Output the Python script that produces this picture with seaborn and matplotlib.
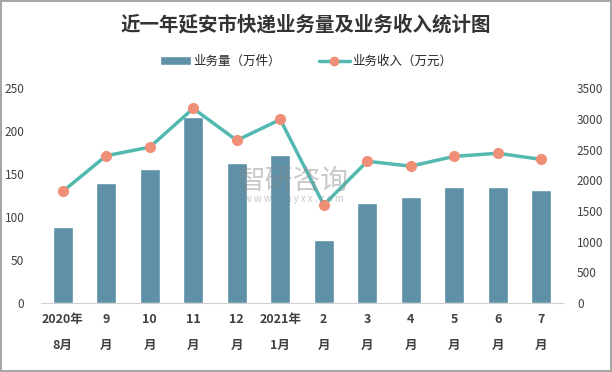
import numpy as np
import pandas as pd
import seaborn as sns
import matplotlib.pyplot as plt
from matplotlib.lines import Line2D
from matplotlib.patches import Patch

months = ["2020年\n8月", "9\n月", "10\n月", "11\n月", "12\n月", "2021年\n1月",
          "2\n月", "3\n月", "4\n月", "5\n月", "6\n月", "7\n月"]
volume = [89, 140, 156, 217, 163, 172, 74, 117, 123, 135, 135, 132]       # 业务量（万件）
income = [1820, 2400, 2540, 3170, 2650, 2990, 1600, 2310, 2230, 2390, 2440, 2340]  # 业务收入（万元）

bar_col = "#5e90a8"
line_col = "#52b9b1"
dot_col = "#ef8f78"

sns.set_style("white")
plt.rcParams['font.family'] = ['Noto Sans CJK SC', 'DejaVu Sans']

df = pd.DataFrame({"month": months, "volume": volume, "income": income})

fig = plt.figure(figsize=(6.12, 3.72), dpi=100)
fig.patch.set_edgecolor("#a6a6a6")
fig.patch.set_linewidth(1.5)
ax = fig.add_axes([0.067, 0.185, 0.853, 0.578])

sns.barplot(data=df, x="month", y="volume", color=bar_col, width=0.46,
            saturation=1, ax=ax)
ax.set_ylim(0, 250)
ax.set_yticks(range(0, 251, 50))
ax.set_xlabel("")
ax.set_ylabel("")

ax2 = ax.twinx()
sns.pointplot(data=df, x="month", y="income", color=line_col, errorbar=None,
              markers="o", ax=ax2)
for ln in ax2.lines:
    ln.set_linewidth(2.5)
    ln.set_markersize(6)
    ln.set_markerfacecolor(dot_col)
    ln.set_markeredgecolor(dot_col)
ax2.set_ylim(0, 3500)
ax2.set_yticks(range(0, 3501, 500))
ax2.set_ylabel("")
ax2.set_xlim(-0.5, 11.5)
ax.set_xlim(-0.5, 11.5)

for a in (ax, ax2):
    for s in a.spines.values():
        s.set_visible(False)
    a.tick_params(length=0, labelsize=8.5, colors="#404040")
ax.spines["bottom"].set_visible(True)
ax.spines["bottom"].set_color("#d0d0d0")
ax.tick_params(axis="y", pad=12)
ax2.tick_params(axis="y", pad=10)
ax.tick_params(axis="x", pad=7)
for t in ax.get_xticklabels():
    t.set_fontweight("bold")
    t.set_linespacing(2.3)
    t.set_fontsize(9)

fig.text(0.5, 0.935, "近一年延安市快递业务量及业务收入统计图", ha="center", va="center",
         fontsize=14, fontweight="bold", color="#333333")

handles = [Patch(facecolor=bar_col, label="业务量（万件）"),
           Line2D([0], [0], color=line_col, lw=2.5, marker="o", markersize=6,
                  markerfacecolor=dot_col, markeredgecolor=dot_col, label="业务收入（万元）")]
fig.legend(handles=handles, loc="center", bbox_to_anchor=(0.5, 0.835), ncol=2,
           frameon=False, fontsize=9, columnspacing=3, handlelength=2.5,
           handletextpad=0.2)

# watermark
fig.text(0.48, 0.515, "智研咨询", ha="center", va="center", fontsize=20,
         color="#888888", alpha=0.45)
fig.text(0.48, 0.465, "w w w . c h y x x . c o m", ha="center", va="center",
         fontsize=7, color="#888888", alpha=0.45)

fig.savefig("out.png", dpi=100)
